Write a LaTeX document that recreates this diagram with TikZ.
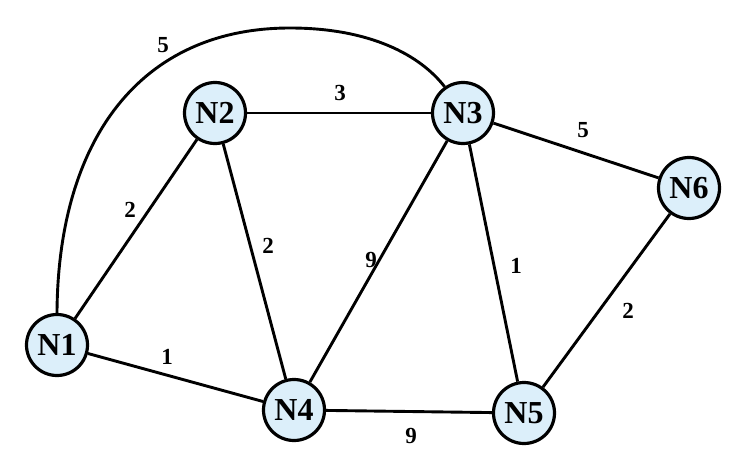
\documentclass[tikz,border=0pt]{standalone}
\usepackage{fontspec}
\setmainfont{Liberation Serif}
\definecolor{nodefill}{HTML}{DCEFFA}
\begin{document}
\begin{tikzpicture}[x=1pt,y=-1pt,
  netnode/.style={circle,draw=black,line width=3.2pt,fill=nodefill,minimum size=61pt,inner sep=0pt,font=\fontsize{32}{34}\selectfont\bfseries},
  edge/.style={line width=2.9pt,black},
  wlabel/.style={font=\fontsize{23}{25}\selectfont\bfseries,inner sep=0pt}]
\useasboundingbox (0,0) rectangle (747,460);
\node[netnode] (N1) at (57,345) {N1};
\node[netnode] (N2) at (215,113) {N2};
\node[netnode] (N3) at (463,113) {N3};
\node[netnode] (N4) at (294,410) {N4};
\node[netnode] (N5) at (524,413) {N5};
\node[netnode] (N6) at (689,188) {N6};
\coordinate (top) at (290,28);
\draw[edge] (N1) -- (N2);
\draw[edge] (N1) -- (N4);
\draw[edge] (N2) -- (N3);
\draw[edge] (N2) -- (N4);
\draw[edge] (N3) -- (N4);
\draw[edge] (N3) -- (N5);
\draw[edge] (N3) -- (N6);
\draw[edge] (N4) -- (N5);
\draw[edge] (N5) -- (N6);
\draw[edge] (N1.north) .. controls (58,140) and (140,28) .. (top)
  .. controls (370,28) and (420,55) .. (N3.125);
\node[wlabel] (w13) at (163,45) {5};
\node[wlabel] (w23) at (340,93) {3};
\node[wlabel] (w36) at (583,130) {5};
\node[wlabel] (w12) at (130,210) {2};
\node[wlabel] (w24) at (268,246) {2};
\node[wlabel] (w34) at (371,260) {9};
\node[wlabel] (w35) at (516,266) {1};
\node[wlabel] (w56) at (628,311) {2};
\node[wlabel] (w14) at (167,357) {1};
\node[wlabel] (w45) at (411,436) {9};
\end{tikzpicture}
\end{document}
